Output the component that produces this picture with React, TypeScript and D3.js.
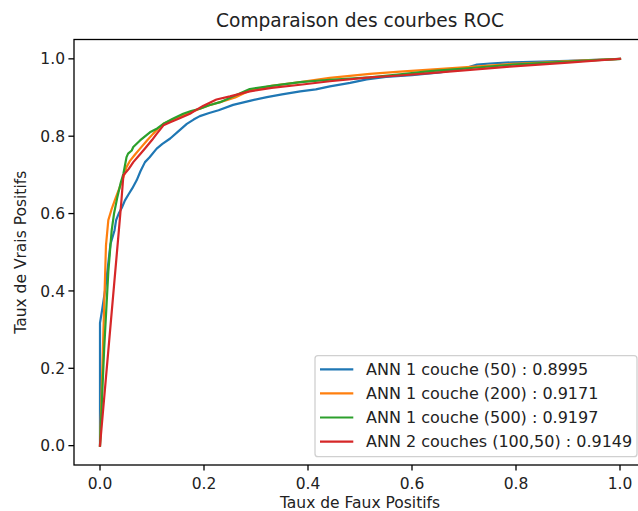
import React from "react";
import * as d3 from "d3";

const title = "Comparaison des courbes ROC";
const xLabel = "Taux de Faux Positifs";
const yLabel = "Taux de Vrais Positifs";
const xTicks = [0, 0.2, 0.4, 0.6, 0.8, 1.0];
const yTicks = [0, 0.2, 0.4, 0.6, 0.8, 1.0];

const seriesNames = [
  "ANN 1 couche (50) : 0.8995",
  "ANN 1 couche (200) : 0.9171",
  "ANN 1 couche (500) : 0.9197",
  "ANN 2 couches (100,50) : 0.9149",
];
const seriesColors = ["#1f77b4", "#ff7f0e", "#2ca02c", "#d62728"];

const roc50: [number, number][] = [
  [0, 0], [0, 0.317], [0.004, 0.35], [0.0096, 0.4], [0.015, 0.46], [0.02, 0.52],
  [0.028, 0.557], [0.031, 0.583], [0.036, 0.6], [0.042, 0.615], [0.048, 0.634],
  [0.055, 0.65], [0.062, 0.665], [0.0705, 0.686], [0.078, 0.71], [0.0865, 0.733],
  [0.095, 0.745], [0.109, 0.768], [0.12, 0.78], [0.135, 0.794], [0.15, 0.812],
  [0.167, 0.832], [0.18, 0.843], [0.192, 0.852], [0.21, 0.86], [0.228, 0.867],
  [0.256, 0.881], [0.29, 0.892], [0.321, 0.901], [0.35, 0.908], [0.385, 0.916],
  [0.415, 0.921], [0.442, 0.929], [0.481, 0.938], [0.513, 0.947], [0.55, 0.953],
  [0.6, 0.958], [0.654, 0.965], [0.7, 0.975], [0.725, 0.985], [0.75, 0.988],
  [0.794, 0.991], [0.85, 0.993], [0.9, 0.995], [1, 1],
];

const roc200: [number, number][] = [
  [0, 0], [0.0115, 0.518], [0.016, 0.583], [0.022, 0.61], [0.03, 0.64],
  [0.038, 0.668], [0.045, 0.694], [0.051, 0.72], [0.058, 0.737], [0.067, 0.752],
  [0.077, 0.768], [0.09, 0.788], [0.102, 0.806], [0.112, 0.82], [0.122, 0.832],
  [0.14, 0.843], [0.16, 0.854], [0.175, 0.862], [0.192, 0.871], [0.21, 0.88],
  [0.231, 0.888], [0.26, 0.9], [0.288, 0.918], [0.33, 0.93], [0.385, 0.94],
  [0.442, 0.951], [0.519, 0.961], [0.577, 0.967], [0.635, 0.972], [0.72, 0.98],
  [0.794, 0.987], [0.85, 0.99], [0.9, 0.994], [1, 1],
];

const roc500: [number, number][] = [
  [0, 0], [0.008, 0.25], [0.016, 0.45], [0.0225, 0.557], [0.027, 0.6],
  [0.033, 0.64], [0.04, 0.68], [0.045, 0.703], [0.051, 0.746], [0.054, 0.755],
  [0.061, 0.763], [0.064, 0.772], [0.077, 0.789], [0.096, 0.81], [0.11, 0.82],
  [0.122, 0.832], [0.14, 0.845], [0.16, 0.858], [0.175, 0.865], [0.192, 0.871],
  [0.21, 0.88], [0.231, 0.888], [0.26, 0.905], [0.288, 0.922], [0.33, 0.93],
  [0.385, 0.94], [0.442, 0.946], [0.519, 0.952], [0.577, 0.96], [0.635, 0.968],
  [0.72, 0.977], [0.794, 0.985], [0.9, 0.993], [1, 1],
];

const roc100_50: [number, number][] = [
  [0, 0], [0.038, 0.583], [0.041, 0.63], [0.045, 0.699], [0.055, 0.715],
  [0.064, 0.733], [0.075, 0.75], [0.0865, 0.768], [0.1, 0.79], [0.109, 0.806],
  [0.122, 0.828], [0.135, 0.836], [0.151, 0.845], [0.173, 0.858], [0.185, 0.868],
  [0.199, 0.879], [0.224, 0.895], [0.25, 0.903], [0.288, 0.916], [0.33, 0.925],
  [0.385, 0.933], [0.442, 0.942], [0.519, 0.952], [0.577, 0.957], [0.635, 0.963],
  [0.7, 0.97], [0.788, 0.98], [0.9, 0.99], [1, 1],
];

const allSeries = [roc50, roc200, roc500, roc100_50];

const W = 638;
const H = 511;
const left = 74;
const right = 646;
const top = 39.5;
const bottom = 465;
const font = "DejaVu Sans, sans-serif";

export default function App() {
  const x = d3.scaleLinear().domain([-0.05, 1.05]).range([left, right]);
  const y = d3.scaleLinear().domain([-0.05, 1.05]).range([bottom, top]);
  const line = d3
    .line<[number, number]>()
    .x((d) => x(d[0]))
    .y((d) => y(d[1]));

  const legX = 315;
  const legY = 355.7;
  const legW = 322;
  const legH = 101;
  const rowY = (i: number) => 369.3 + i * 24.1;

  return (
    <svg
      width={W}
      height={H}
      style={{ position: "absolute", left: 0, top: 0, background: "#fff" }}
      fontFamily={font}
    >
      <rect x={0} y={0} width={W} height={H} fill="#fff" />
      <defs>
        <clipPath id="plotclip">
          <rect x={left} y={top} width={right - left} height={bottom - top} />
        </clipPath>
      </defs>
      <g clipPath="url(#plotclip)">
        {allSeries.map((s, i) => (
          <path
            key={i}
            d={line(s) || ""}
            fill="none"
            stroke={seriesColors[i]}
            strokeWidth={2.2}
            strokeLinejoin="round"
            strokeLinecap="square"
          />
        ))}
      </g>
      <rect
        x={left}
        y={top}
        width={right - left}
        height={bottom - top}
        fill="none"
        stroke="#000"
        strokeWidth={1.3}
      />
      {xTicks.map((t) => (
        <g key={"x" + t}>
          <line x1={x(t)} x2={x(t)} y1={bottom} y2={bottom + 5.6} stroke="#000" strokeWidth={1.3} />
          <text x={x(t)} y={488.5} textAnchor="middle" fontSize={15.5} fill="#222">
            {t.toFixed(1)}
          </text>
        </g>
      ))}
      {yTicks.map((t) => (
        <g key={"y" + t}>
          <line x1={left - 5.6} x2={left} y1={y(t)} y2={y(t)} stroke="#000" strokeWidth={1.3} />
          <text x={left - 9} y={y(t) + 5.6} textAnchor="end" fontSize={15.5} fill="#222">
            {t.toFixed(1)}
          </text>
        </g>
      ))}
      <text x={(left + right) / 2} y={508} textAnchor="middle" fontSize={15.5} fill="#222">
        {xLabel}
      </text>
      <text
        transform={`translate(26, ${(top + bottom) / 2}) rotate(-90)`}
        textAnchor="middle"
        fontSize={15.5}
        fill="#222"
      >
        {yLabel}
      </text>
      <text x={(left + right) / 2} y={27} textAnchor="middle" fontSize={18.6} fill="#222">
        {title}
      </text>
      <rect
        x={legX}
        y={legY}
        width={legW}
        height={legH}
        rx={3}
        fill="#fff"
        fillOpacity={0.8}
        stroke="#d0d0d0"
        strokeWidth={1.3}
      />
      {seriesNames.map((n, i) => (
        <g key={n}>
          <line x1={320} x2={353.3} y1={rowY(i)} y2={rowY(i)} stroke={seriesColors[i]} strokeWidth={2.2} />
          <text x={366} y={rowY(i) + 5.8} fontSize={16} fill="#222">
            {n}
          </text>
        </g>
      ))}
    </svg>
  );
}
